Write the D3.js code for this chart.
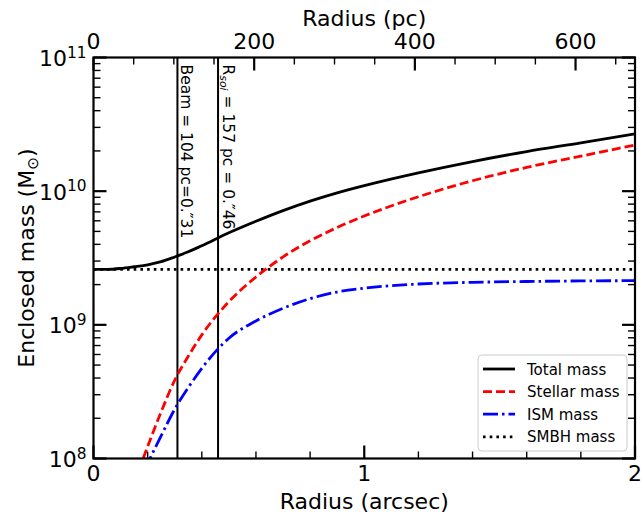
<!DOCTYPE html>
<html>
<head>
<meta charset="utf-8">
<script src="https://cdn.jsdelivr.net/npm/d3@7"></script>
<style>
  html, body { margin: 0; padding: 0; background: #fff; }
  svg { display: block; font-family: "DejaVu Sans", sans-serif; }
</style>
</head>
<body>
<svg id="chart" width="641" height="515"></svg>
<script>
// Enclosed mass profiles (solar masses) versus radius (arcsec)
const radiusTotal = [0, 0.05, 0.1, 0.15, 0.2, 0.25, 0.3, 0.35, 0.4, 0.5, 0.6, 0.7, 0.8, 0.9, 1.0, 1.2, 1.4, 1.6, 1.8, 2.0];
const totalMass   = [2.60e9, 2.60e9, 2.64e9, 2.72e9, 2.815e9, 2.97e9, 3.22e9, 3.52e9, 3.91e9, 4.88e9, 5.95e9, 7.15e9, 8.42e9, 9.71e9, 1.10e10, 1.37e10, 1.665e10, 1.978e10, 2.30e10, 2.687e10];

const radiusComp  = [0.15, 0.2, 0.25, 0.3, 0.35, 0.4, 0.5, 0.6, 0.7, 0.8, 0.9, 1.0, 1.2, 1.4, 1.6, 1.8, 2.0];
const stellarMass = [6.6e7, 1.23e8, 2.24e8, 3.85e8, 5.82e8, 8.41e8, 1.49e9, 2.28e9, 3.22e9, 4.25e9, 5.35e9, 6.52e9, 9.08e9, 1.197e10, 1.507e10, 1.828e10, 2.213e10];
const ismMass     = [5.5e7, 9.2e7, 1.48e8, 2.34e8, 3.39e8, 4.73e8, 7.94e8, 1.07e9, 1.33e9, 1.57e9, 1.76e9, 1.88e9, 2.02e9, 2.08e9, 2.11e9, 2.13e9, 2.14e9];

const smbhMass = 2.6e9;

// Reference radii (arcsec): beam size and sphere of influence
const markerRadius = [0.31, 0.46];

// Axis ticks
const pcPerArcsec = 337;
const xTicksArcsec = [0, 1, 2];
const xTicksPc = [0, 200, 400, 600];
const yTickExp = [8, 9, 10, 11];

const seriesNames = ["Total mass", "Stellar mass", "ISM mass", "SMBH mass"];

const svg = d3.select("#chart");
const pL = 93.5, pR = 635, pT = 57.5, pB = 458.5;

const x = d3.scaleLinear().domain([0, 2]).range([pL, pR]);
const xPc = d3.scaleLinear().domain([0, 2 * pcPerArcsec]).range([pL, pR]);
const y = d3.scaleLog().domain([1e8, 1e11]).range([pB, pT]);

svg.append("defs").append("clipPath").attr("id", "plotclip")
  .append("rect").attr("x", pL).attr("y", pT)
  .attr("width", pR - pL).attr("height", pB - pT);

const plot = svg.append("g").attr("clip-path", "url(#plotclip)");

const styles = [
  { color: "#000000", dash: null, width: 2.8 },
  { color: "#ff0000", dash: "9,4", width: 2.8 },
  { color: "#0000ff", dash: "15,4,2.5,4", width: 2.8 },
  { color: "#000000", dash: "2.6,4.1", width: 2.8 }
];

const line = d3.line().x(d => x(d[0])).y(d => y(d[1])).curve(d3.curveMonotoneX);

// Vertical reference lines
markerRadius.forEach(r => {
  plot.append("line")
    .attr("x1", x(r)).attr("x2", x(r))
    .attr("y1", pT).attr("y2", pB)
    .attr("stroke", "#000").attr("stroke-width", 2);
});

// Curves
const seriesData = [
  d3.zip(radiusTotal, totalMass),
  d3.zip(radiusComp, stellarMass),
  d3.zip(radiusComp, ismMass),
  [[0, smbhMass], [2, smbhMass]]
];
[3, 2, 1, 0].forEach(i => {
  plot.append("path")
    .attr("d", line(seriesData[i]))
    .attr("fill", "none")
    .attr("stroke", styles[i].color)
    .attr("stroke-width", styles[i].width)
    .attr("stroke-dasharray", styles[i].dash)
    .attr("stroke-linecap", "butt");
});

// Rotated labels beside the reference lines
const labFont = 15.5;
const beamText = svg.append("text")
  .attr("transform", `translate(${x(markerRadius[0]) + 4},${pT + 7}) rotate(90)`)
  .attr("font-size", labFont).attr("fill", "#000");
beamText.append("tspan").text("Beam = 104 pc=0.″31");

const rsoiText = svg.append("text")
  .attr("transform", `translate(${x(markerRadius[1]) + 5},${pT + 7}) rotate(90)`)
  .attr("font-size", labFont).attr("fill", "#000");
rsoiText.append("tspan").text("R");
rsoiText.append("tspan").attr("font-size", labFont * 0.7).attr("font-style", "italic")
  .attr("dy", 3).text("soi");
rsoiText.append("tspan").attr("dy", -3).text(" = 157 pc = 0.″46");

// Frame
svg.append("rect").attr("x", pL).attr("y", pT)
  .attr("width", pR - pL).attr("height", pB - pT)
  .attr("fill", "none").attr("stroke", "#000").attr("stroke-width", 2.2);

const ticks = svg.append("g").attr("stroke", "#000");
const majLen = 13, minLen = 7, majW = 2.2, minW = 1.4;

// Bottom axis ticks (arcsec)
d3.range(0, 2.0001, 0.2).forEach(v => {
  const isMajor = Math.abs(v - Math.round(v)) < 1e-6;
  const len = isMajor ? majLen : minLen;
  ticks.append("line").attr("x1", x(v)).attr("x2", x(v))
    .attr("y1", pB).attr("y2", pB - len)
    .attr("stroke-width", isMajor ? majW : minW);
});
// Top axis ticks (pc)
d3.range(0, 2 * pcPerArcsec, 50).forEach(v => {
  const isMajor = v % 200 === 0;
  const len = isMajor ? majLen : minLen;
  ticks.append("line").attr("x1", xPc(v)).attr("x2", xPc(v))
    .attr("y1", pT).attr("y2", pT + len)
    .attr("stroke-width", isMajor ? majW : minW);
});
// Left and right log ticks
yTickExp.forEach((e, i) => {
  const base = Math.pow(10, e);
  [[pL, 1], [pR, -1]].forEach(([px, dir]) => {
    ticks.append("line").attr("x1", px).attr("x2", px + dir * majLen)
      .attr("y1", y(base)).attr("y2", y(base)).attr("stroke-width", majW);
    if (i < yTickExp.length - 1) {
      d3.range(2, 10).forEach(k => {
        ticks.append("line").attr("x1", px).attr("x2", px + dir * minLen)
          .attr("y1", y(k * base)).attr("y2", y(k * base)).attr("stroke-width", minW);
      });
    }
  });
});

const fs = 22;
// Bottom tick labels
xTicksArcsec.forEach(v => {
  svg.append("text").attr("x", x(v)).attr("y", 481)
    .attr("text-anchor", "middle").attr("font-size", fs).text(v);
});
// Top tick labels
xTicksPc.forEach(v => {
  svg.append("text").attr("x", xPc(v)).attr("y", 48.5)
    .attr("text-anchor", "middle").attr("font-size", fs).text(v);
});
// Left tick labels 10^n
yTickExp.forEach(e => {
  const t = svg.append("text").attr("x", 86.5).attr("y", y(Math.pow(10, e)) + 8.5)
    .attr("text-anchor", "end").attr("font-size", fs);
  t.append("tspan").text("10");
  t.append("tspan").attr("font-size", fs * 0.7).attr("dy", -8.5).text(e);
});

// Axis titles
svg.append("text").attr("x", (pL + pR) / 2).attr("y", 509)
  .attr("text-anchor", "middle").attr("font-size", fs).text("Radius (arcsec)");
svg.append("text").attr("x", (pL + pR) / 2).attr("y", 26)
  .attr("text-anchor", "middle").attr("font-size", fs).text("Radius (pc)");
const yl = svg.append("text")
  .attr("transform", `translate(34,${(pT + pB) / 2}) rotate(-90)`)
  .attr("text-anchor", "middle").attr("font-size", fs);
yl.append("tspan").text("Enclosed mass (M");
yl.append("tspan").attr("font-size", fs * 0.7).attr("dy", 4).text("⊙");
yl.append("tspan").attr("dy", -4).text(")");

// Legend
const lg = svg.append("g");
lg.append("rect").attr("x", 478).attr("y", 355).attr("width", 149).attr("height", 96)
  .attr("rx", 4).attr("fill", "#fff").attr("fill-opacity", 0.85)
  .attr("stroke", "#cccccc").attr("stroke-width", 1);
seriesNames.forEach((name, i) => {
  const ly = 369 + i * 22.6;
  lg.append("line").attr("x1", 483).attr("x2", 515).attr("y1", ly).attr("y2", ly)
    .attr("stroke", styles[i].color).attr("stroke-width", styles[i].width)
    .attr("stroke-dasharray", styles[i].dash);
  lg.append("text").attr("x", 527).attr("y", ly + 5.5)
    .attr("font-size", 15).text(name);
});
</script>
</body>
</html>
